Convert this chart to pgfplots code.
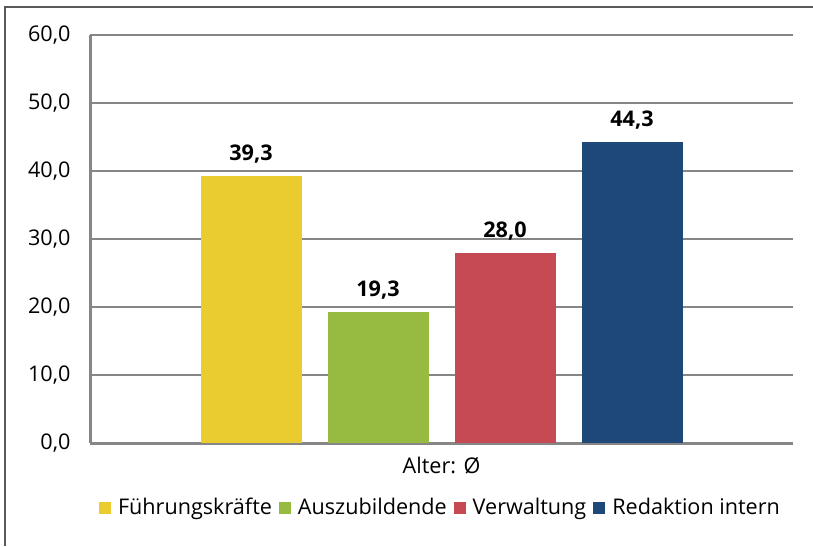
\documentclass[border=0pt]{standalone}
\usepackage{fontspec}
\setmainfont{Open Sans}
\usepackage{pgfplots}
\pgfplotsset{compat=1.18}
\definecolor{cyel}{RGB}{234,204,48}
\definecolor{cgrn}{RGB}{150,187,64}
\definecolor{cred}{RGB}{198,74,84}
\definecolor{cblu}{RGB}{29,72,120}
\definecolor{gridg}{RGB}{134,134,134}
\begin{document}
\fontsize{10.8}{13}\selectfont
\begin{tikzpicture}
\useasboundingbox (0,0) rectangle (406.5pt,273pt);
\draw[gray!70!black, line width=0.8pt] (2.5pt,0) -- (2.5pt,269.5pt) -- (406.5pt,269.5pt);
\begin{axis}[
    at={(45pt,51.5pt)}, anchor=south west,
    scale only axis, width=351.5pt, height=204pt,
    ybar=13pt, bar width=50.5pt,
    xmin=-1, xmax=1, ymin=0, ymax=60,
    xtick={0}, xticklabels={Alter: Ø},
    ytick={0,10,...,60},
    yticklabel={\pgfmathprintnumber[fixed,fixed zerofill,precision=1,use comma]{\tick}},
    /pgf/number format/assume math mode=true,
    ymajorgrids, grid style={gridg, line width=1pt},
    axis x line*=bottom, axis y line*=left,
    axis line style={gridg, line width=1.5pt},
    major tick length=0pt,
    tick label style={font=\fontsize{10.8}{13}\selectfont, text=black},
    yticklabel style={xshift=-6pt},
    xticklabel style={yshift=-3pt},
    nodes near coords={\pgfmathprintnumber[fixed,fixed zerofill,precision=1,use comma]{\pgfplotspointmeta}},
    nodes near coords style={font=\bfseries\fontsize{10.8}{13}\selectfont, text=black, anchor=south, yshift=2.5pt},
    legend style={at={(0.5,-0.125)}, anchor=north, draw=none, legend columns=-1,
        font=\fontsize{10.8}{13}\selectfont, column sep=1.5pt, inner sep=0pt,
        nodes={inner xsep=2pt}},
    legend image code/.code={\fill[#1] (0pt,-3pt) rectangle (6pt,3pt);},
    every axis plot/.append style={draw=none},
    clip=false,
]
\addplot[fill=cyel] coordinates {(0,39.3)};
\addplot[fill=cgrn] coordinates {(0,19.3)};
\addplot[fill=cred] coordinates {(0,28.0)};
\addplot[fill=cblu] coordinates {(0,44.3)};
\legend{Führungskräfte,Auszubildende,Verwaltung,Redaktion intern}
\end{axis}
\end{tikzpicture}
\end{document}
